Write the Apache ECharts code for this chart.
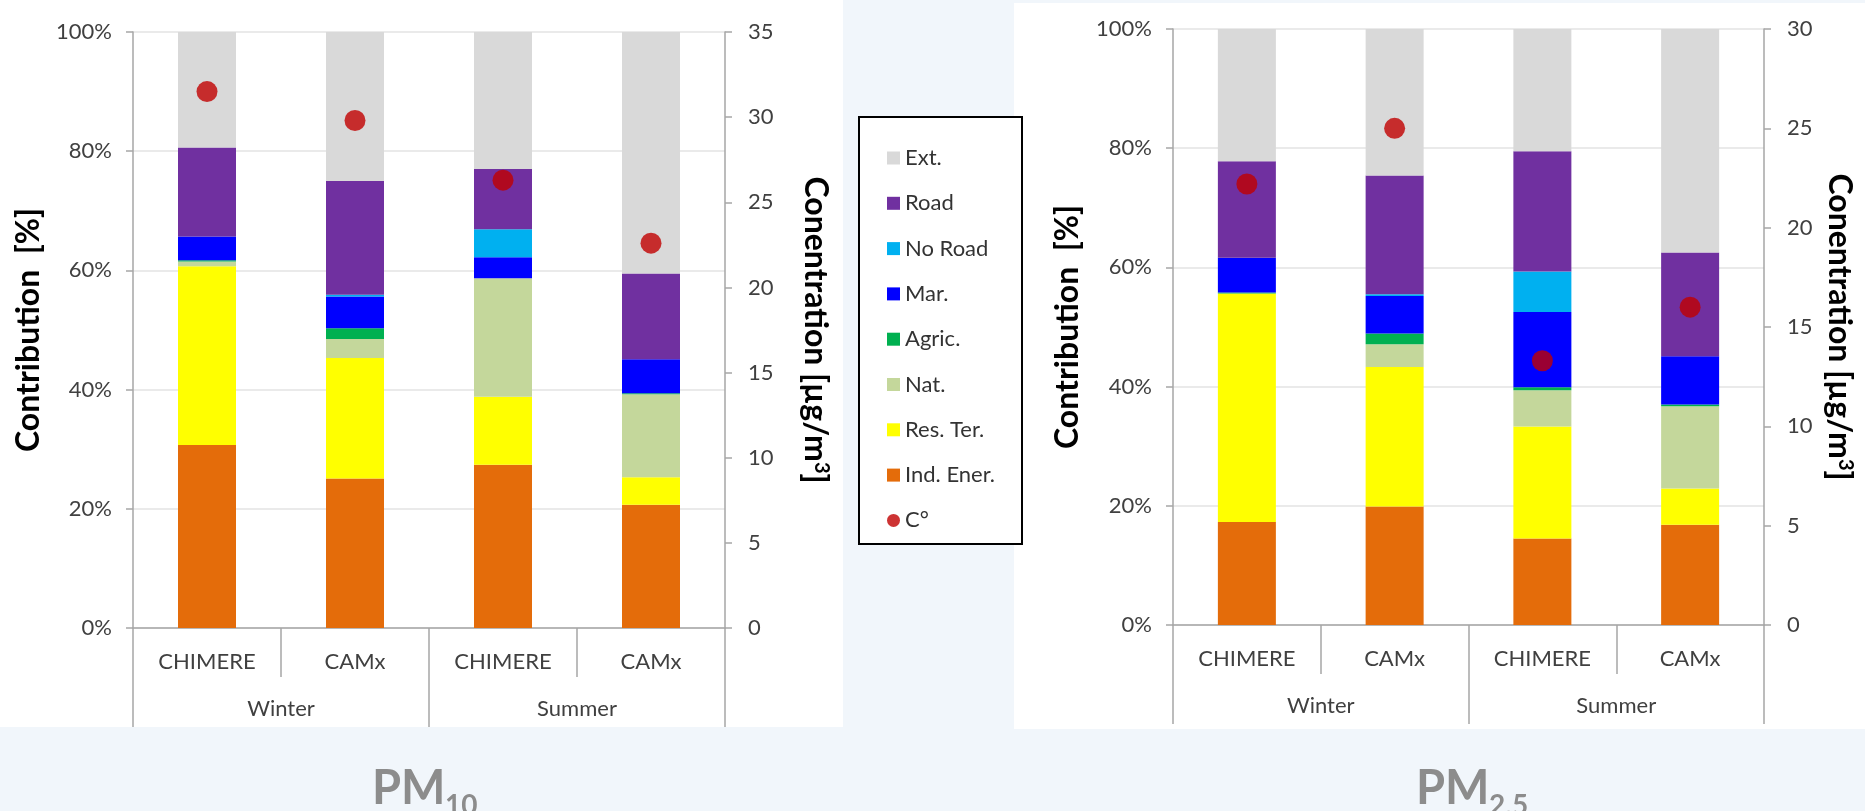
<!DOCTYPE html>
<html>
<head>
<meta charset="utf-8">
<script src="https://cdn.jsdelivr.net/npm/echarts@6/dist/echarts.min.js"></script>
<style>
  html, body { margin: 0; padding: 0; background: #f1f6fb; }
  #main { width: 1865px; height: 811px; }
</style>
</head>
<body>
<div id="main"></div>
<script>
// categories
var models = ['CHIMERE', 'CAMx', 'CHIMERE', 'CAMx'];
var seasons = ['Winter', 'Summer'];

// PM10 - share of each source (%), bottom to top
var pm10Ind    = [30.7, 25.1, 27.4, 20.7];
var pm10Res    = [30.0, 20.2, 11.4, 4.6];
var pm10Nat    = [0.8, 3.2, 19.9, 13.9];
var pm10Agric  = [0.2, 1.8, 0.0, 0.2];
var pm10Mar    = [4.0, 5.3, 3.5, 5.7];
var pm10NoRoad = [0.0, 0.3, 4.7, 0.0];
var pm10Road   = [14.9, 19.1, 10.1, 14.4];
var pm10Ext    = [19.4, 25.0, 23.0, 40.5];
var pm10Conc   = [31.5, 29.8, 26.3, 22.6];   // µg/m3

// PM2.5
var pm25Ind    = [17.3, 19.9, 14.5, 16.8];
var pm25Res    = [38.3, 23.4, 18.8, 6.1];
var pm25Nat    = [0.0, 3.8, 6.1, 13.8];
var pm25Agric  = [0.2, 1.8, 0.5, 0.3];
var pm25Mar    = [5.8, 6.3, 12.6, 8.1];
var pm25NoRoad = [0.0, 0.3, 6.8, 0.0];
var pm25Road   = [16.2, 19.9, 20.2, 17.4];
var pm25Ext    = [22.2, 24.6, 20.5, 37.5];
var pm25Conc   = [22.2, 25.0, 13.3, 16.0];

var font = 'Lato';
var axisGray = '#a6a6a6';
var labelColor = '#404040';
var pmGray = '#8c8c8c';

var colors = {
    'Ext.': '#d9d9d9',
    'Road': '#7030a0',
    'No Road': '#00b0f0',
    'Mar.': '#0000ff',
    'Agric.': '#00b050',
    'Nat.': '#c4d79b',
    'Res. Ter.': '#ffff00',
    'Ind. Ener.': '#e46c0a',
    'C°': '#c00000'
};

function xAxes(g) {
    return [{
        type: 'category', gridIndex: g, data: models, position: 'bottom',
        axisLine: {lineStyle: {color: axisGray, width: 1.5}},
        axisTick: {show: true, interval: 0, length: 49, lineStyle: {color: axisGray, width: 1.5}},
        axisLabel: {interval: 0, margin: 23, fontSize: 22, color: labelColor, fontFamily: font}
    }, {
        type: 'category', gridIndex: g, data: seasons, position: 'bottom',
        axisLine: {show: false},
        axisTick: {show: true, interval: 0, length: 99, lineStyle: {color: axisGray, width: 1.5}},
        axisLabel: {interval: 0, margin: 70, fontSize: 22, color: labelColor, fontFamily: font}
    }];
}

function yAxes(g, concMax, gapL, gapR) {
    return [{
        type: 'value', gridIndex: g, position: 'left', min: 0, max: 100, interval: 20,
        axisLine: {show: true, lineStyle: {color: axisGray, width: 1.5}},
        axisTick: {show: true, length: 7, lineStyle: {color: axisGray, width: 1.5}},
        axisLabel: {formatter: '{value}%', margin: 21, fontSize: 22, color: labelColor, fontFamily: font},
        splitLine: {lineStyle: {color: '#e3e3e3', width: 1.5}},
        name: 'Contribution  [%]', nameLocation: 'middle', nameRotate: 90, nameGap: gapL,
        nameTextStyle: {fontSize: 32, fontWeight: 'bold', color: '#000', fontFamily: font}
    }, {
        type: 'value', gridIndex: g, position: 'right', min: 0, max: concMax, interval: 5,
        axisLine: {show: true, lineStyle: {color: axisGray, width: 1.5}},
        axisTick: {show: true, length: 7, lineStyle: {color: axisGray, width: 1.5}},
        axisLabel: {margin: 23, fontSize: 22, color: labelColor, fontFamily: font},
        splitLine: {show: false},
        name: '{t|Conentration [µg/m}{s|3}{t|]}', nameLocation: 'middle', nameRotate: -90, nameGap: gapR,
        nameTextStyle: {
            rich: {
                t: {fontSize: 32, fontWeight: 'bold', color: '#000', fontFamily: font},
                s: {fontSize: 20, fontWeight: 'bold', color: '#000', fontFamily: font, verticalAlign: 'top'}
            }
        }
    }];
}

function seriesFor(g, stack, parts, conc) {
    var out = [];
    parts.forEach(function (p) {
        out.push({
            name: p[0], type: 'bar', stack: stack, barWidth: 58,
            xAxisIndex: g * 2, yAxisIndex: g * 2,
            itemStyle: {color: colors[p[0]]},
            data: p[1]
        });
    });
    out.push({
        name: 'C°', type: 'scatter', xAxisIndex: g * 2, yAxisIndex: g * 2 + 1,
        symbolSize: 21, z: 5, itemStyle: {color: colors['C°']},
        data: conc
    });
    return out;
}

var series = seriesFor(0, 'pm10', [
    ['Ind. Ener.', pm10Ind], ['Res. Ter.', pm10Res], ['Nat.', pm10Nat], ['Agric.', pm10Agric],
    ['Mar.', pm10Mar], ['No Road', pm10NoRoad], ['Road', pm10Road], ['Ext.', pm10Ext]
], pm10Conc).concat(seriesFor(1, 'pm25', [
    ['Ind. Ener.', pm25Ind], ['Res. Ter.', pm25Res], ['Nat.', pm25Nat], ['Agric.', pm25Agric],
    ['Mar.', pm25Mar], ['No Road', pm25NoRoad], ['Road', pm25Road], ['Ext.', pm25Ext]
], pm25Conc));

var legendNames = ['Ext.', 'Road', 'No Road', 'Mar.', 'Agric.', 'Nat.', 'Res. Ter.', 'Ind. Ener.', 'C°'];

function pmTitle(text, left, top, size) {
    return {
        text: text, left: left, top: top,
        textStyle: {fontSize: size, fontWeight: 'bold', color: pmGray, fontFamily: font}
    };
}

var chart = echarts.init(document.getElementById('main'));
chart.setOption({
    animation: false,
    backgroundColor: '#f1f6fb',
    textStyle: {fontFamily: font},
    graphic: [
        {type: 'rect', z: -100, shape: {x: 0, y: 0, width: 843, height: 727}, style: {fill: '#ffffff'}},
        {type: 'rect', z: -100, shape: {x: 1014, y: 3, width: 851, height: 726}, style: {fill: '#ffffff'}},
        {type: 'rect', z: -50, shape: {x: 859, y: 117, width: 163, height: 427},
            style: {fill: '#ffffff', stroke: '#000000', lineWidth: 2}}
    ],
    title: [
        pmTitle('PM', 367, 760, 47),
        pmTitle('10', 440, 787, 28),
        pmTitle('PM', 1411, 760, 47),
        pmTitle('2.5', 1484, 787, 28)
    ],
    legend: {
        orient: 'vertical', left: 882, top: 142,
        itemWidth: 13, itemHeight: 13, itemGap: 23.3, selectedMode: false,
        textStyle: {fontSize: 22, lineHeight: 22, color: '#333', fontFamily: font},
        data: legendNames.map(function (n) {
            return {name: n, icon: n === 'C°' ? 'circle' : 'rect'};
        })
    },
    grid: [
        {left: 133, right: 1140, top: 32, bottom: 183},
        {left: 1173, right: 101, top: 29, bottom: 186}
    ],
    xAxis: xAxes(0).concat(xAxes(1)),
    yAxis: yAxes(0, 35, 88, 74).concat(yAxes(1, 30, 89, 59)),
    series: series
});
</script>
</body>
</html>
